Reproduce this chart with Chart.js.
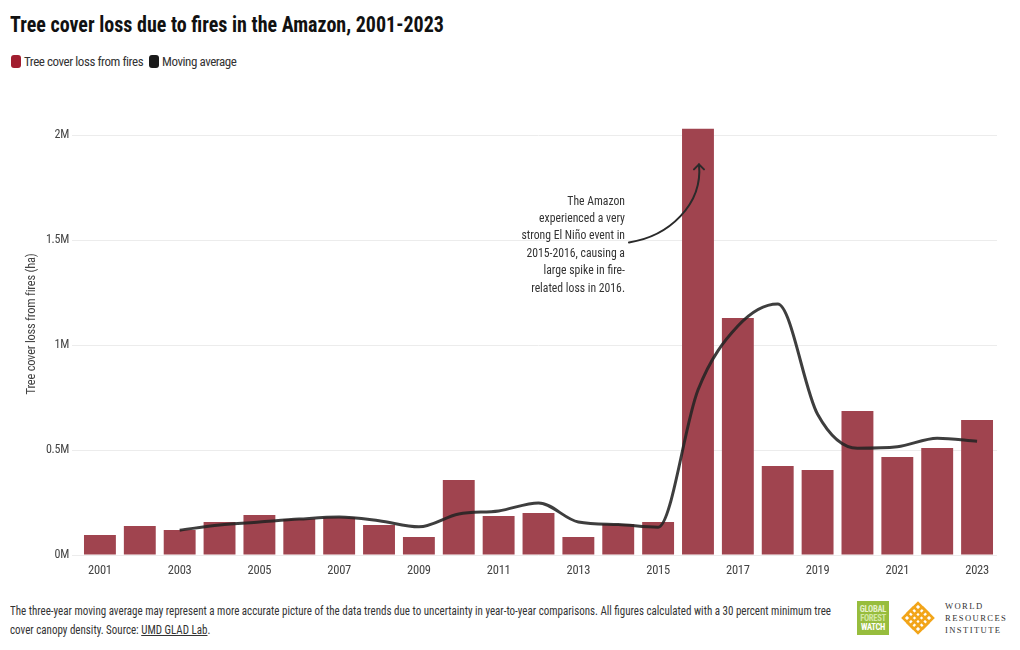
<!DOCTYPE html>
<html>
<head>
<meta charset="utf-8">
<script src="https://cdn.jsdelivr.net/npm/chart.js@4/dist/chart.umd.min.js"></script>
<style>
  html, body { margin: 0; padding: 0; background: #fff; }
  body { width: 1020px; height: 650px; position: relative; overflow: hidden;
         font-family: "Roboto", sans-serif; font-stretch: condensed; color: #222; }
  #title { position: absolute; left: 10px; top: 11px; font-size: 22.5px; font-weight: bold; color: #111; white-space: nowrap;
           transform: scaleX(0.89); transform-origin: 0 0; }
  #legend { position: absolute; left: 11px; top: 54px; font-size: 13px; color: #333; display: flex; align-items: center; white-space: nowrap; letter-spacing: -0.45px; }
  .sw { display: inline-block; width: 10px; height: 13px; border-radius: 3px; margin-right: 3px; }
  .item { display: flex; align-items: center; margin-right: 6px; }
  #wrap { position: absolute; left: 0; top: 80px; width: 1020px; height: 510px; }
  #footer { position: absolute; left: 10px; top: 602px; font-size: 12.3px; line-height: 19px; color: #333; white-space: nowrap;
            transform: scaleX(0.895); transform-origin: 0 0; }
  #footer a { color: #333; text-decoration: underline; }
  #gfw { position: absolute; left: 857px; top: 601px; width: 32px; height: 34px; background: #97bd3d;
         font-weight: bold; font-size: 8.6px; line-height: 9px; color: #fff; text-align: center; padding-top: 4px; box-sizing: border-box;
         letter-spacing: -0.3px; }
  #wri { position: absolute; left: 901px; top: 599px; }
  #writxt { position: absolute; left: 945px; top: 600px; font-family: "Liberation Serif", "DejaVu Serif", serif; font-stretch: normal;
            font-size: 8.6px; letter-spacing: 1.4px; line-height: 12px; color: #333; }
</style>
</head>
<body>
<div id="title">Tree cover loss due to fires in the Amazon, 2001-2023</div>
<div id="legend">
  <span class="item"><span class="sw" style="background:#a11e2f"></span>Tree cover loss from fires</span>
  <span class="item"><span class="sw" style="background:#1a1a1a"></span>Moving average</span>
</div>
<div id="wrap"><canvas id="c" width="1020" height="510"></canvas></div>
<div id="footer">The three-year moving average may represent a more accurate picture of the data trends due to uncertainty in year-to-year comparisons. All figures calculated with a 30 percent minimum tree<br>cover canopy density. Source: <a>UMD GLAD Lab</a>.</div>
<div id="gfw"><span style="color:#e6f1cc">GLOBAL</span><br><span style="color:#d4e8a6">FOREST</span><br>WATCH</div>
<svg id="wri" width="34" height="38" viewBox="0 0 34 38">
  <g fill="none" stroke="#f2a51a" stroke-width="2.6" stroke-linejoin="miter">
    <path d="M2 19 L17 4 L32 19 L17 34 Z"/>
    <path d="M9.5 11.5 L24.5 26.5 M24.5 11.5 L9.5 26.5"/>
    <path d="M6 15 L13 8 M21 8 L28 15 M6 23 L13 30 M21 30 L28 23"/>
    <path d="M13 8 L20 15 M21 8 L14 15 M13 30 L20 23 M21 30 L14 23"/>
    <path d="M6 15 L13 22 M6 23 L13 16 M28 15 L21 22 M28 23 L21 16"/>
  </g>
</svg>
<div id="writxt">WORLD<br>RESOURCES<br>INSTITUTE</div>
<script>
const years = ["2001","2002","2003","2004","2005","2006","2007","2008","2009","2010","2011","2012","2013","2014","2015","2016","2017","2018","2019","2020","2021","2022","2023"];
const fireLoss = [95000,138000,119000,157000,190000,171000,180000,143000,86000,357000,186000,200000,86000,148000,157000,2030000,1129000,424000,405000,686000,467000,510000,643000];
const movingAvg = [null,null,118000,143000,157000,171000,181000,163000,134000,195000,210000,248000,157000,145000,132000,786000,1090000,1195000,670000,508000,515000,556000,542000];
const yTicks = [0, 500000, 1000000, 1500000, 2000000];
const yTickLabels = ["0M", "0.5M", "1M", "1.5M", "2M"];
const annotationLines = ["The Amazon", "experienced a very", "strong El Niño event in", "2015-2016, causing a", "large spike in fire-", "related loss in 2016."];

const FAMILY = 'Roboto, sans-serif';

const spacingPlugin = {
  id: 'spacing',
  beforeDraw(chart) { chart.ctx.letterSpacing = '-0.25px'; }
};

const annotationPlugin = {
  id: 'annot',
  afterDatasetsDraw(chart) {
    const {ctx, scales: {x, y}} = chart;
    const tipX = x.getPixelForValue(15) + 1;
    const tipY = y.getPixelForValue(1860000);
    const sx = tipX - 70, sy = tipY + 78;
    ctx.save();
    ctx.strokeStyle = '#2a2a2a';
    ctx.lineWidth = 2;
    ctx.lineCap = 'round';
    ctx.beginPath();
    ctx.moveTo(sx, sy);
    ctx.bezierCurveTo(sx + 40, sy - 6, tipX + 4, tipY + 40, tipX, tipY);
    ctx.stroke();
    ctx.beginPath();
    ctx.moveTo(tipX - 5, tipY + 5);
    ctx.lineTo(tipX, tipY);
    ctx.lineTo(tipX + 5, tipY + 5);
    ctx.stroke();
    ctx.fillStyle = '#333';
    ctx.font = 'condensed 13px ' + FAMILY;
    ctx.letterSpacing = '0px';
    ctx.textAlign = 'right';
    ctx.textBaseline = 'middle';
    const rx = sx - 4;
    const k = 0.9;
    ctx.scale(k, 1);
    annotationLines.forEach((t, i) => ctx.fillText(t, rx / k, tipY + 37 + i * 17.4));
    ctx.restore();
  }
};

new Chart(document.getElementById('c'), {
  type: 'bar',
  data: {
    labels: years,
    datasets: [
      { type: 'line', label: 'Moving average', data: movingAvg, borderColor: 'rgba(35,35,35,0.88)', borderWidth: 3,
        pointRadius: 0, pointHoverRadius: 0, cubicInterpolationMode: 'monotone', fill: false, order: 0, spanGaps: false },
      { type: 'bar', label: 'Tree cover loss from fires', data: fireLoss, backgroundColor: '#a0444f',
        barPercentage: 1.0, categoryPercentage: 0.8, order: 1 }
    ]
  },
  options: {
    responsive: false,
    animation: false,
    layout: { padding: { left: 0, right: 23, top: 13, bottom: 0 } },
    plugins: { legend: { display: false }, title: { display: false }, tooltip: { enabled: false } },
    scales: {
      x: {
        grid: { display: false, drawTicks: false },
        border: { display: false },
        ticks: { autoSkip: false, maxRotation: 0, padding: 8, color: '#444', font: { family: FAMILY, size: 12.5, weight: 'condensed' },
                 callback: (v, i) => (i % 2 === 0 ? years[i] : '') },
        afterFit: s => { s.height = 35; }
      },
      y: {
        min: 0, max: 2200000,
        afterBuildTicks: s => { s.ticks = yTicks.map(v => ({ value: v })); },
        grid: { color: '#ececec', lineWidth: 1, tickLength: 8 },
        border: { display: false },
        ticks: { padding: 3, color: '#444', font: { family: FAMILY, size: 12, weight: 'condensed' },
                 callback: v => yTickLabels[yTicks.indexOf(v)] },
        title: { display: true, text: 'Tree cover loss from fires (ha)', color: '#444',
                 font: { family: FAMILY, size: 12.5, weight: 'condensed' }, padding: { top: 24, bottom: 0 } },
        afterFit: s => { s.width = 80; }
      }
    }
  },
  plugins: [spacingPlugin, annotationPlugin]
});
</script>
</body>
</html>
